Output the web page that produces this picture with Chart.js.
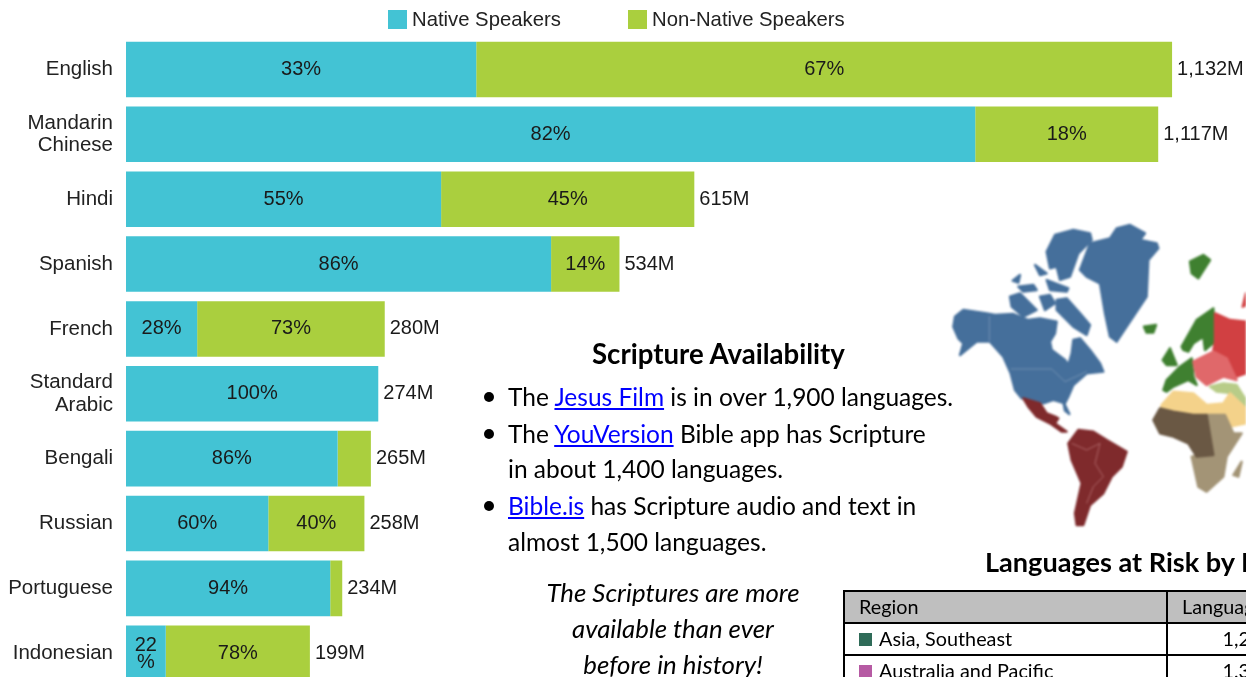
<!DOCTYPE html>
<html>
<head>
<meta charset="utf-8">
<title>Languages</title>
<script src="https://cdn.jsdelivr.net/npm/chart.js@4"></script>
<style>
html, body { margin: 0; padding: 0; background: #fff; width: 1246px; height: 677px; overflow: hidden; }
#chart { position: absolute; left: 0; top: 0; }
.abs { position: absolute; white-space: nowrap; font-family: Lato, sans-serif; color: #000; }
.legend { font-family: "Liberation Sans", sans-serif; font-size: 20.3px; color: #222; }
.swatch { position: absolute; width: 19px; height: 19px; top: 10px; }
a { color: #0000ff; text-decoration: underline; }
.line { font-size: 24.5px; }
.dot { position: absolute; left: 484px; width: 10px; height: 10px; border-radius: 5px; background: #000; }
.cite { font-size: 25.8px; font-style: italic; width: 300px; text-align: center; left: 523px; }
.head { font-size: 27.6px; font-weight: 700; }
#risk { position: absolute; left: 843px; top: 590px; width: 600px; border-collapse: collapse; table-layout: fixed; font-family: Lato, sans-serif; font-size: 19.8px; }
#risk td { border: 2px solid #000; height: 30px; padding: 0 14px; line-height: 1; }
#risk td:last-child { text-align: right; padding-right: 168px; }
#risk tr:first-child td { background: #bfbfbf; }
#risk tr:first-child td:last-child { text-align: left; }
#risk i { display: inline-block; width: 13px; height: 13px; margin-right: 7px; }
svg polygon { stroke-width: 7; stroke-linejoin: round; }
</style>
</head>
<body>
<canvas id="chart" width="1246" height="710"></canvas>

<div class="legend" id="legend"></div>

<div class="abs head" style="left:592px;top:337px">Scripture Availability</div>
<div class="dot" style="top:392px"></div>
<div class="abs line" style="left:508px;top:382px">The <a href="#">Jesus Film</a> is in over 1,900 languages.</div>
<div class="dot" style="top:429px"></div>
<div class="abs line" style="left:508px;top:419px">The <a href="#">YouVersion</a> Bible app has Scripture</div>
<div class="abs line" style="left:508px;top:454px">in about 1,400 languages.</div>
<div class="dot" style="top:501px"></div>
<div class="abs line" style="left:508px;top:491px"><a href="#">Bible.is</a> has Scripture audio and text in</div>
<div class="abs line" style="left:508px;top:527px">almost 1,500 languages.</div>
<div class="abs cite" style="top:577px">The Scriptures are more</div>
<div class="abs cite" style="top:613px">available than ever</div>
<div class="abs cite" style="top:649px">before in history!</div>

<svg style="position:absolute;left:940px;top:210px;filter:blur(0.9px)" width="306" height="330" viewBox="0 0 918 990">
  <g fill="#456f9b" stroke="#456f9b">
    <polygon points="45,320 70,300 140,310 165,315 220,312 265,330 300,325 350,335 345,370 330,395 335,420 375,450 385,465 395,430 400,390 420,385 450,420 480,460 490,485 440,490 400,525 385,560 375,580 340,570 310,580 270,565 245,565 225,540 212,490 190,440 150,395 110,395 60,435 70,400 55,385 40,350"/>
    <polygon points="420,180 450,100 510,85 530,55 570,45 615,70 600,90 650,100 655,115 625,150 620,260 580,320 530,395 510,380 495,310 480,220 440,200"/>
    <polygon points="320,125 345,75 400,60 450,70 455,90 415,130 390,200 360,210 350,170 330,175"/>
    <polygon points="350,270 380,265 420,310 450,345 440,375 400,350 370,320 350,300"/>
    <polygon points="210,260 240,250 290,300 250,320 215,290"/>
    <polygon points="218,212 240,195 235,218"/>
    <polygon points="235,230 280,225 290,240 250,245"/>
    <polygon points="285,165 320,190 300,195"/>
    <polygon points="320,210 385,235 380,245 330,240"/>
    <polygon points="300,260 330,255 345,280 315,300"/>
    <polygon points="370,575 388,612 375,602"/>
  </g>
  <polyline points="148,318 148,395" fill="none" stroke="#86a0bd" stroke-width="2"/>
  <polyline points="212,477 335,477 375,515 440,485" fill="none" stroke="#86a0bd" stroke-width="2"/>
  <g fill="#7f2a2c" stroke="#7f2a2c">
    <polygon points="250,565 300,580 320,610 345,620 355,625 345,640 380,665 365,665 330,640 290,620 265,590"/>
    <polygon points="385,700 415,660 460,665 500,690 560,725 545,770 515,800 490,850 450,885 430,945 410,945 405,910 425,820 395,750"/>
  </g>
  <polyline points="395,700 440,720 480,700 465,760 490,800 460,830 440,880" fill="none" stroke="#c28082" stroke-width="2"/>
  <g fill="#3f8030" stroke="#3f8030">
    <polygon points="750,155 790,135 810,150 775,205 755,190"/>
    <polygon points="612,350 648,345 640,368 620,368"/>
    <polygon points="725,410 770,330 820,295 825,395 795,420 790,380 760,400 745,425 730,420"/>
    <polygon points="668,450 690,415 710,465 680,465"/>
    <polygon points="670,540 680,510 720,470 755,445 760,500 770,525 745,510 700,530 680,545"/>
  </g>
  <g fill="#d14042" stroke="#d14042">
    <polygon points="825,310 870,330 918,335 918,490 890,500 860,440 820,420 825,395"/>
    <polygon points="908,290 918,250 918,285"/>
  </g>
  <polygon points="760,455 820,425 860,445 890,510 850,500 800,525 770,500" fill="#e0686a" stroke="#e0686a"/>
  <polygon points="810,530 850,520 890,525 918,570 918,590 880,550 830,545" fill="#b8cc88" stroke="#b8cc88"/>
  <polygon points="665,585 700,545 760,550 800,585 850,580 870,550 918,595 918,640 870,650 850,610 800,620 760,610 700,600 660,620" fill="#f4d28a" stroke="#f4d28a"/>
  <polygon points="800,615 855,615 880,670 905,670 860,740 850,800 800,845 775,830 755,740 810,730" fill="#a39476" stroke="#a39476"/>
  <polygon points="640,630 660,595 700,605 760,615 800,615 820,735 770,740 745,700 700,680 660,670" fill="#6a5844" stroke="#6a5844"/>
  <polygon points="880,795 905,755 895,800" fill="#a39476" stroke="#a39476"/>
</svg>

<div class="abs head" style="left:985px;top:545px;font-size:27.1px">Languages at Risk by Region</div>
<table id="risk">
  <tr><td style="width:293px">Region</td><td>Languages</td></tr>
  <tr><td><i style="background:#2f6b58"></i>Asia, Southeast</td><td>1,248</td></tr>
  <tr><td><i style="background:#b65aa3"></i>Australia and Pacific</td><td>1,313</td></tr>
</table>

<script>
const languages = ["English", ["Mandarin", "Chinese"], "Hindi", "Spanish", "French", ["Standard", "Arabic"], "Bengali", "Russian", "Portuguese", "Indonesian"];
const nativeSpeakers = [379, 919, 341, 460, 77, 273, 229, 154, 221, 43];
const nonNativeSpeakers = [753, 198, 274, 74, 203, 0, 36, 104, 13, 156];
const nativeLabels = ["33%", "82%", "55%", "86%", "28%", "100%", "86%", "60%", "94%", ["22", "%"]];
const nonNativeLabels = ["67%", "18%", "45%", "14%", "73%", null, null, "40%", null, "78%"];
const totalLabels = ["1,132M", "1,117M", "615M", "534M", "280M", "274M", "265M", "258M", "234M", "199M"];
const xMax = 1212;

const labelFont = '20px "Liberation Sans", sans-serif';

// values inside the bars + total at the bar end
const barLabels = {
    id: "barLabels",
    afterDatasetsDraw(chart) {
        const ctx = chart.ctx;
        ctx.save();
        ctx.font = labelFont;
        ctx.fillStyle = "#1a1a1a";
        ctx.textBaseline = "middle";
        [nativeLabels, nonNativeLabels].forEach((texts, d) => {
            chart.getDatasetMeta(d).data.forEach((bar, i) => {
                const t = texts[i];
                if (!t) return;
                const mid = bar.getCenterPoint();
                ctx.textAlign = "center";
                if (Array.isArray(t)) {
                    ctx.fillText(t[0], mid.x, mid.y - 8);
                    ctx.fillText(t[1], mid.x, mid.y + 9);
                } else {
                    ctx.fillText(t, mid.x, mid.y);
                }
            });
        });
        chart.getDatasetMeta(1).data.forEach((bar, i) => {
            ctx.textAlign = "left";
            ctx.fillText(totalLabels[i], bar.x + 5, bar.y);
        });
        ctx.restore();
    },
};

const chart = new Chart(document.getElementById("chart"), {
    type: "bar",
    data: {
        labels: languages,
        datasets: [
            { label: "Native Speakers", data: nativeSpeakers, backgroundColor: "#43c3d4" },
            { label: "Non-Native Speakers", data: nonNativeSpeakers, backgroundColor: "#aacf3e" },
        ],
    },
    options: {
        indexAxis: "y",
        responsive: false,
        animation: false,
        categoryPercentage: 1,
        barPercentage: 0.857,
        layout: { padding: { top: 37, bottom: 5 } },
        plugins: { legend: { display: false }, tooltip: { enabled: false } },
        scales: {
            x: { stacked: true, min: 0, max: xMax, display: false },
            y: {
                stacked: true,
                grid: { display: false, drawTicks: false },
                border: { display: false },
                afterFit(scale) { scale.width = 126; },
                ticks: {
                    padding: 13,
                    color: "#222",
                    font: { family: '"Liberation Sans", sans-serif', size: 20.5, lineHeight: 1.1 },
                    autoSkip: false,
                },
            },
        },
    },
    plugins: [barLabels],
});

// html legend, built from the datasets
const legendX = [[388, 412], [628, 652]];
document.getElementById("legend").innerHTML = chart.data.datasets.map((ds, i) =>
    `<div class="swatch" style="left:${legendX[i][0]}px;background:${ds.backgroundColor}"></div>` +
    `<div class="abs legend" style="left:${legendX[i][1]}px;top:8px">${ds.label}</div>`
).join("");
</script>
</body>
</html>
